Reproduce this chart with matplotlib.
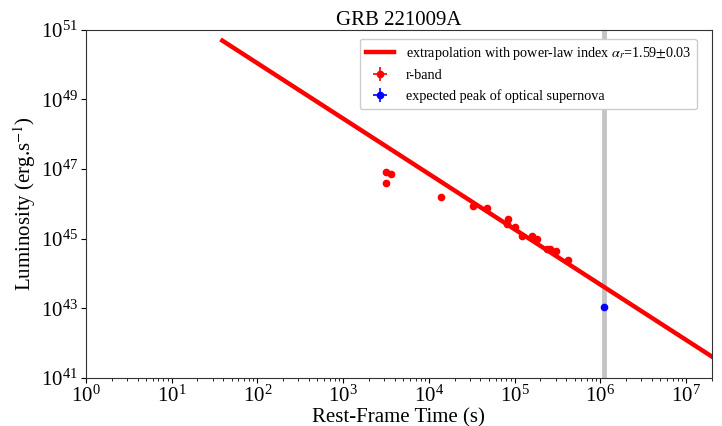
import numpy as np
import matplotlib
matplotlib.use("Agg")
import matplotlib.pyplot as plt
from matplotlib.ticker import LogLocator, NullFormatter, NullLocator

plt.rcParams['font.family'] = ['Liberation Serif', 'DejaVu Serif']
plt.rcParams['mathtext.fontset'] = 'stix'

# r-band afterglow luminosities (rest-frame time in s, luminosity in erg/s)
t_r = [3140, 3190, 3590, 13700, 32700, 48200, 83000, 81300, 102000,
       122000, 159000, 182000, 238000, 260000, 305000, 417000]
L_r = [3.9e46, 8.3e46, 7.2e46, 1.6e46, 8.9e45, 7.5e45, 3.6e45, 2.7e45, 2.1e45,
       1.2e45, 1.2e45, 1.0e45, 5.0e44, 5.0e44, 4.3e44, 2.5e44]
Lerr_frac = 0.12
terr_frac = 0.05

# expected supernova peak
t_sn = [1.1e6]
L_sn = [1.1e43]

# power-law extrapolation
alpha_r = 1.59
log_norm = 53.22
t_fit = [39.0, 2.0e7]

fig = plt.figure(figsize=(7.22, 4.26), dpi=100)
ax = fig.add_axes([0.119, 0.113, 0.867, 0.817])

ax.axvline(t_sn[0], color='#c4c4c4', lw=3.5, zorder=1)

tf = np.array(t_fit)
ax.plot(tf, 10**log_norm * tf**(-alpha_r), color='red', lw=3.2, zorder=2,
        label=r'extrapolation with power-law index $\alpha_r$=1.59$\pm$0.03')

L_r_arr = np.array(L_r)
t_r_arr = np.array(t_r)
ax.errorbar(t_r, L_r, yerr=Lerr_frac * L_r_arr, xerr=terr_frac * t_r_arr,
            fmt='o', color='red', ms=4.5, elinewidth=1.2, capsize=0, zorder=3,
            label='r-band')
ax.errorbar(t_sn, L_sn, yerr=[0.15 * L_sn[0]], xerr=[0.05 * t_sn[0]],
            fmt='o', color='blue', ms=4.5, elinewidth=1.2, capsize=0, zorder=3,
            label='expected peak of optical supernova')

ax.set_xscale('log')
ax.set_yscale('log')
ax.set_xlim(1, 2.0e7)
ax.set_ylim(1e41, 1e51)

ax.set_xticks([10.0**k for k in range(0, 8)])
ax.set_yticks([10.0**k for k in range(41, 52, 2)])
ax.xaxis.set_minor_locator(LogLocator(base=10, subs=np.arange(2, 10), numticks=20))
ax.xaxis.set_minor_formatter(NullFormatter())
ax.yaxis.set_minor_locator(NullLocator())
ax.tick_params(axis='both', which='major', labelsize=15, length=3.5, pad=2)
ax.tick_params(axis='both', which='minor', length=2)

for sp in ax.spines.values():
    sp.set_color('#333333')

ax.set_xlabel('Rest-Frame Time (s)', fontsize=15, labelpad=1)
ax.set_ylabel(r'Luminosity (erg.s$^{-1}$)', fontsize=15, labelpad=2)
ax.set_title('GRB 221009A', fontsize=15, pad=3)

ax.legend(loc='upper right', fontsize=10.2, framealpha=1, edgecolor='#cccccc',
          handlelength=2.0, borderpad=0.45, labelspacing=0.5,
          bbox_to_anchor=(0.988, 0.995))

fig.savefig('out.png', dpi=100)
